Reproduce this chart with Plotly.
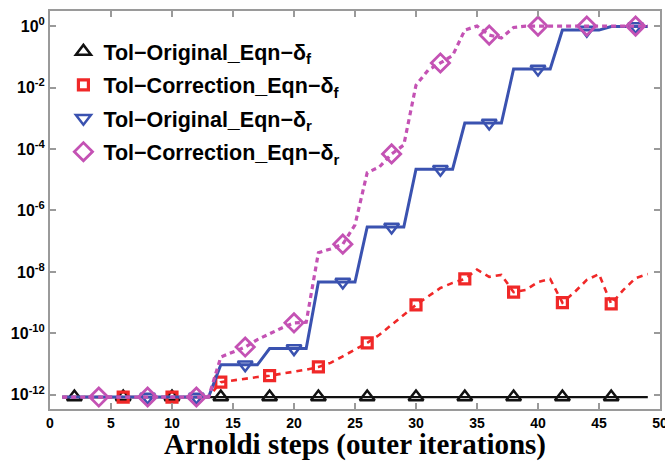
import plotly.graph_objects as go

# ---------------- data ----------------
steps = list(range(1, 50))

orig_f = [
    8.5e-13, 8.5e-13, 8.5e-13, 8.5e-13, 8.5e-13, 8.5e-13, 8.5e-13, 8.5e-13, 8.5e-13, 8.5e-13,
    8.5e-13, 8.5e-13, 8.5e-13, 8.5e-13, 8.5e-13, 8.5e-13, 8.5e-13, 8.5e-13, 8.5e-13, 8.5e-13,
    8.5e-13, 8.5e-13, 8.5e-13, 8.5e-13, 8.5e-13, 8.5e-13, 8.5e-13, 8.5e-13, 8.5e-13, 8.5e-13,
    8.5e-13, 8.5e-13, 8.5e-13, 8.5e-13, 8.5e-13, 8.5e-13, 8.5e-13, 8.5e-13, 8.5e-13, 8.5e-13,
    8.5e-13, 8.5e-13, 8.5e-13, 8.5e-13, 8.5e-13, 8.5e-13, 8.5e-13, 8.5e-13, 8.5e-13,
]

corr_f = [
    8.5e-13, 8.5e-13, 8.5e-13, 8.5e-13, 8.5e-13, 8.5e-13, 8.5e-13, 8.5e-13, 8.5e-13, 8.5e-13,
    8.5e-13, 8.5e-13, 8.5e-13, 2.6e-12, 3.0e-12, 3.4e-12, 3.8e-12, 4.2e-12, 4.8e-12, 5.6e-12,
    6.6e-12, 8.1e-12, 1.1e-11, 1.8e-11, 2.9e-11, 4.9e-11, 9.0e-11, 1.9e-10, 4.0e-10, 8.5e-10,
    1.6e-9, 3.0e-9, 4.4e-9, 5.9e-9, 1.2e-8, 6.9e-9, 8.0e-9, 2.2e-9, 2.6e-9, 4.7e-9,
    5.9e-9, 1.0e-9, 2.2e-9, 5.5e-9, 8.5e-9, 9.1e-10, 2.6e-9, 6.3e-9, 8.5e-9,
]

orig_r = [
    8.5e-13, 8.5e-13, 8.5e-13, 8.5e-13, 8.5e-13, 8.5e-13, 8.5e-13, 8.5e-13, 8.5e-13, 8.5e-13,
    8.5e-13, 8.5e-13, 8.5e-13, 9.5e-12, 9.5e-12, 9.5e-12, 9.5e-12, 3.2e-11, 3.2e-11, 3.2e-11,
    3.2e-11, 4.7e-9, 4.7e-9, 4.7e-9, 4.7e-9, 2.9e-7, 2.9e-7, 2.9e-7, 2.9e-7, 2.2e-5,
    2.2e-5, 2.2e-5, 2.2e-5, 7.0e-4, 7.0e-4, 7.0e-4, 7.0e-4, 0.04, 0.04, 0.04,
    0.04, 0.74, 0.74, 0.74, 0.74, 0.97, 0.97, 0.97, 0.97,
]

corr_r = [
    8.5e-13, 8.5e-13, 8.5e-13, 8.5e-13, 8.5e-13, 8.5e-13, 8.5e-13, 8.5e-13, 8.5e-13, 8.5e-13,
    8.5e-13, 8.5e-13, 8.5e-13, 1.7e-11, 2.5e-11, 3.6e-11, 6.3e-11, 1.0e-10, 1.5e-10, 2.2e-10,
    2.3e-10, 4.2e-8, 5.6e-8, 8.0e-8, 3.4e-7, 1.7e-5, 2.6e-5, 6.9e-5, 1.35e-4, 0.012,
    0.037, 0.063, 0.11, 0.74, 1.0, 0.51, 0.41, 0.9, 1.0, 1.0,
    1.0, 1.0, 1.0, 1.0, 1.0, 1.0, 1.0, 1.0, 1.0,
]

marks_orig_f = [2, 6, 10, 14, 18, 22, 26, 30, 34, 38, 42, 46]
marks_corr_f = [6, 10, 14, 18, 22, 26, 30, 34, 38, 42, 46]
marks_orig_r = [8, 12, 16, 20, 24, 28, 32, 36, 40, 44, 48]
marks_corr_r = [4, 8, 12, 16, 20, 24, 28, 32, 36, 40, 44, 48]

names = [
    "Tol\u2212Original_Eqn\u2212\u03b4<sub>f</sub>",
    "Tol\u2212Correction_Eqn\u2212\u03b4<sub>f</sub>",
    "Tol\u2212Original_Eqn\u2212\u03b4<sub>r</sub>",
    "Tol\u2212Correction_Eqn\u2212\u03b4<sub>r</sub>",
]

x_ticks = [0, 5, 10, 15, 20, 25, 30, 35, 40, 45, 50]
y_ticks = [1e-12, 1e-10, 1e-8, 1e-6, 1e-4, 1e-2, 1]
y_tick_text = ["10<sup>-12</sup>", "10<sup>-10</sup>", "10<sup>-8</sup>", "10<sup>-6</sup>",
               "10<sup>-4</sup>", "10<sup>-2</sup>", "10<sup>0</sup>"]

# ---------------- styling ----------------
series = [
    (orig_f, marks_orig_f, "#111111", "solid", 2.2, "triangle-up-open", 13, 2.5),
    (corr_f, marks_corr_f, "#f02828", "6px,5px", 2.6, "square-open", 10, 3.2),
    (orig_r, marks_orig_r, "#3a52b0", "solid", 3.0, "triangle-down-open", 13, 2.5),
    (corr_r, marks_corr_r, "#c452b4", "5px,4px", 3.2, "diamond-open", 14, 2.8),
]

fig = go.Figure()
for i, (vals, marks, color, dash, lw, sym, msize, mlw) in enumerate(series):
    fig.add_trace(go.Scatter(
        x=steps, y=vals, mode="lines",
        line=dict(color=color, width=lw, dash=dash),
        showlegend=False, hoverinfo="skip",
    ))
    fig.add_trace(go.Scatter(
        x=marks, y=[vals[steps.index(m)] for m in marks], mode="markers",
        marker=dict(symbol=sym, size=msize, color=color, line=dict(color=color, width=mlw)),
        name=names[i], legendgroup=f"g{i}",
    ))

axis_common = dict(
    showline=True, linecolor="#9a9a9a", linewidth=2, mirror="ticks",
    ticks="inside", ticklen=6, tickcolor="#9a9a9a", tickwidth=1.5,
    showgrid=False, zeroline=False, automargin=False, ticklabeloverflow="allow",
)

fig.update_layout(
    width=665, height=461,
    margin=dict(l=50, r=5, t=11, b=52),
    paper_bgcolor="white", plot_bgcolor="white",
    font=dict(family="Liberation Sans, Arial, sans-serif", color="black"),
    xaxis=dict(
        range=[0, 50], tickvals=x_ticks,
        tickfont=dict(size=14, weight="bold"),
        title=dict(text="<b>Arnoldi steps (outer iterations)</b>",
                   font=dict(family="Liberation Serif, Times New Roman, serif", size=29),
                   standoff=3),
        **axis_common,
    ),
    yaxis=dict(
        type="log", range=[-12.46, 0.49], tickvals=y_ticks, ticktext=y_tick_text,
        tickfont=dict(size=16, weight="bold"),
        **axis_common,
    ),
    legend=dict(
        x=0.022, y=0.95, xanchor="left", yanchor="top",
        bgcolor="rgba(0,0,0,0)", borderwidth=0,
        font=dict(size=21.5, weight="bold"),
        tracegroupgap=2.5, itemsizing="trace",
    ),
)

fig.write_html("out.html", config={"displayModeBar": False},
               post_script="document.body.style.margin='0';")
